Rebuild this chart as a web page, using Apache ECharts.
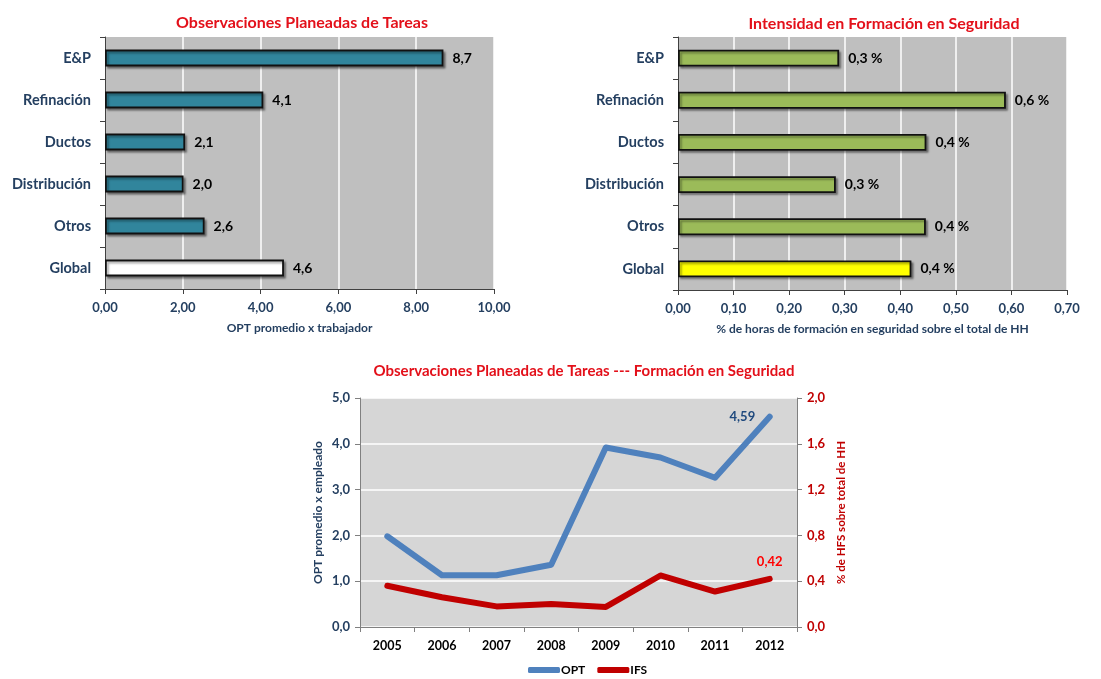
<!DOCTYPE html>
<html>
<head>
<meta charset="utf-8">
<script src="https://cdn.jsdelivr.net/npm/echarts@6/dist/echarts.min.js"></script>
<style>
  html, body { margin: 0; padding: 0; background: #fff; }
  #chart { width: 1101px; height: 679px; }
</style>
</head>
<body>
<div id="chart"></div>
<script>
// datos
var areas = ['E&P', 'Refinación', 'Ductos', 'Distribución', 'Otros', 'Global'];
var optArea = [8.7, 4.07, 2.06, 2.02, 2.56, 4.6];
var ifsArea = [0.29, 0.59, 0.447, 0.284, 0.446, 0.42];
var years = ['2005', '2006', '2007', '2008', '2009', '2010', '2011', '2012'];
var optYear = [1.98, 1.13, 1.13, 1.36, 3.92, 3.70, 3.26, 4.59];
var ifsYear = [0.36, 0.26, 0.18, 0.20, 0.175, 0.45, 0.31, 0.42];

var font = 'Lato, "Open Sans", sans-serif';
var navy = '#243F60';
var red = '#E3101A';

function fmt(v, d) { return v.toFixed(d).replace('.', ','); }

var chart = echarts.init(document.getElementById('chart'));

function catAxis(idx) {
  return {
    type: 'category', gridIndex: idx, data: areas, inverse: true,
    axisLine: { lineStyle: { color: '#404040', width: 1 } },
    axisTick: { show: true, length: 5, lineStyle: { color: '#404040' } },
    axisLabel: { color: navy, fontFamily: font, fontWeight: 'bold', fontSize: 14.5, margin: 14 }
  };
}

function valAxis(idx, max, interval, dec, name) {
  return {
    type: 'value', gridIndex: idx, min: 0, max: max, interval: interval,
    name: name, nameLocation: 'middle', nameGap: 33,
    nameTextStyle: { color: navy, fontFamily: font, fontWeight: 'bold', fontSize: 12 },
    axisLine: { show: true, lineStyle: { color: '#404040' } },
    axisTick: { show: true, length: 5, lineStyle: { color: '#404040' } },
    axisLabel: { color: navy, fontFamily: font, fontWeight: 'bold', fontSize: 13, margin: 12,
      formatter: function (v) { return fmt(v, dec); } },
    splitLine: { show: true, lineStyle: { color: '#ffffff', width: 1.5 } }
  };
}

var barLabel = { show: true, position: 'right', distance: 9, color: '#000', fontFamily: font, fontWeight: 'bold', fontSize: 14 };

chart.setOption({
  animation: false,
  title: [
    { text: 'Observaciones Planeadas de Tareas', left: 297, top: 10, textAlign: 'center',
      textStyle: { color: red, fontFamily: font, fontWeight: 'bold', fontSize: 16 } },
    { text: 'Intensidad en Formación en Seguridad', left: 879, top: 11, textAlign: 'center',
      textStyle: { color: red, fontFamily: font, fontWeight: 'bold', fontSize: 16 } },
    { text: 'Observaciones Planeadas de Tareas --- Formación en Seguridad', left: 579, top: 359, textAlign: 'center',
      textStyle: { color: red, fontFamily: font, fontWeight: 'bold', fontSize: 15 } }
  ],
  legend: {
    left: 523, top: 659, itemWidth: 32, itemHeight: 6, itemGap: 12,
    icon: 'roundRect',
    textStyle: { color: '#000', fontFamily: font, fontWeight: 'bold', fontSize: 12, padding: [0, 0, 0, -4] },
    data: ['OPT', 'IFS']
  },
  grid: [
    { left: 105, top: 37, width: 389, height: 252, show: true, backgroundColor: '#BFBFBF', borderWidth: 0 },
    { left: 678, top: 37, width: 389, height: 253, show: true, backgroundColor: '#BFBFBF', borderWidth: 0 },
    { left: 360, top: 398, width: 437, height: 229, show: true, backgroundColor: '#D6D6D6', borderWidth: 0 }
  ],
  xAxis: [
    valAxis(0, 10, 2, 2, 'OPT promedio x trabajador'),
    valAxis(1, 0.7, 0.1, 2, '% de horas de formación en seguridad sobre el total de HH'),
    {
      type: 'category', gridIndex: 2, data: years, boundaryGap: true,
      axisLine: { lineStyle: { color: '#808080' } },
      axisTick: { show: true, length: 5, lineStyle: { color: '#808080' } },
      axisLabel: { color: '#000', fontFamily: font, fontWeight: 'bold', fontSize: 12.5, margin: 12 }
    }
  ],
  yAxis: [
    catAxis(0),
    catAxis(1),
    {
      type: 'value', gridIndex: 2, min: 0, max: 5, interval: 1,
      name: 'OPT promedio x empleado', nameLocation: 'middle', nameGap: 36,
      nameTextStyle: { color: navy, fontFamily: font, fontWeight: 'bold', fontSize: 12 },
      axisLine: { show: true, lineStyle: { color: '#808080' } },
      axisTick: { show: true, length: 5, lineStyle: { color: '#808080' } },
      axisLabel: { color: navy, fontFamily: font, fontWeight: 'bold', fontSize: 13, margin: 10,
        formatter: function (v) { return fmt(v, 1); } },
      splitLine: { show: true, lineStyle: { color: '#ffffff', width: 1.5 } }
    },
    {
      type: 'value', gridIndex: 2, min: 0, max: 2, interval: 0.4, position: 'right',
      name: '% de HFS sobre total de HH', nameLocation: 'middle', nameGap: 38, nameRotate: 90,
      nameTextStyle: { color: '#C00000', fontFamily: font, fontWeight: 'bold', fontSize: 11.5 },
      axisLine: { show: true, lineStyle: { color: '#808080' } },
      axisTick: { show: true, length: 5, lineStyle: { color: '#808080' } },
      axisLabel: { color: '#C00000', fontFamily: font, fontWeight: 'bold', fontSize: 13, margin: 10,
        formatter: function (v) { return fmt(v, 1); } },
      splitLine: { show: false }
    }
  ],
  series: [
    {
      type: 'bar', xAxisIndex: 0, yAxisIndex: 0, barWidth: '40%',
      data: optArea.map(function (v, i) {
        return { value: v, itemStyle: { color: i === optArea.length - 1 ? '#FFFFFF' : '#31859C' } };
      }),
      itemStyle: { borderColor: '#111', borderWidth: 1.8, shadowColor: 'rgba(0,0,0,0.35)', shadowOffsetX: 2, shadowOffsetY: 2, shadowBlur: 2 },
      label: Object.assign({}, barLabel, { formatter: function (p) { return fmt(p.value, 1); } })
    },
    {
      type: 'bar', xAxisIndex: 1, yAxisIndex: 1, barWidth: '40%',
      data: ifsArea.map(function (v, i) {
        return { value: v, itemStyle: { color: i === ifsArea.length - 1 ? '#FFFF00' : '#9BBB59' } };
      }),
      itemStyle: { borderColor: '#111', borderWidth: 1.8, shadowColor: 'rgba(0,0,0,0.35)', shadowOffsetX: 2, shadowOffsetY: 2, shadowBlur: 2 },
      label: Object.assign({}, barLabel, { formatter: function (p) { return fmt(p.value, 1) + ' %'; } })
    },
    {
      name: 'OPT', type: 'line', xAxisIndex: 2, yAxisIndex: 2,
      symbol: 'circle', symbolSize: 1, color: '#4F81BD',
      lineStyle: { width: 6, color: '#4F81BD', cap: 'round', join: 'round' },
      data: optYear.map(function (v, i) {
        if (i === optYear.length - 1) {
          return { value: v, label: { show: true, position: 'left', distance: 14, color: '#1F497D',
            fontFamily: font, fontWeight: 'bold', fontSize: 13, formatter: function (p) { return fmt(p.value, 2); } } };
        }
        return v;
      })
    },
    {
      name: 'IFS', type: 'line', xAxisIndex: 2, yAxisIndex: 3,
      symbol: 'circle', symbolSize: 1, color: '#C00000',
      lineStyle: { width: 6, color: '#C00000', cap: 'round', join: 'round' },
      data: ifsYear.map(function (v, i) {
        if (i === ifsYear.length - 1) {
          return { value: v, label: { show: true, position: 'top', distance: 10, color: '#FF0000',
            fontFamily: font, fontWeight: 'bold', fontSize: 13, formatter: function (p) { return fmt(p.value, 2); } } };
        }
        return v;
      })
    }
  ]
});
</script>
</body>
</html>
